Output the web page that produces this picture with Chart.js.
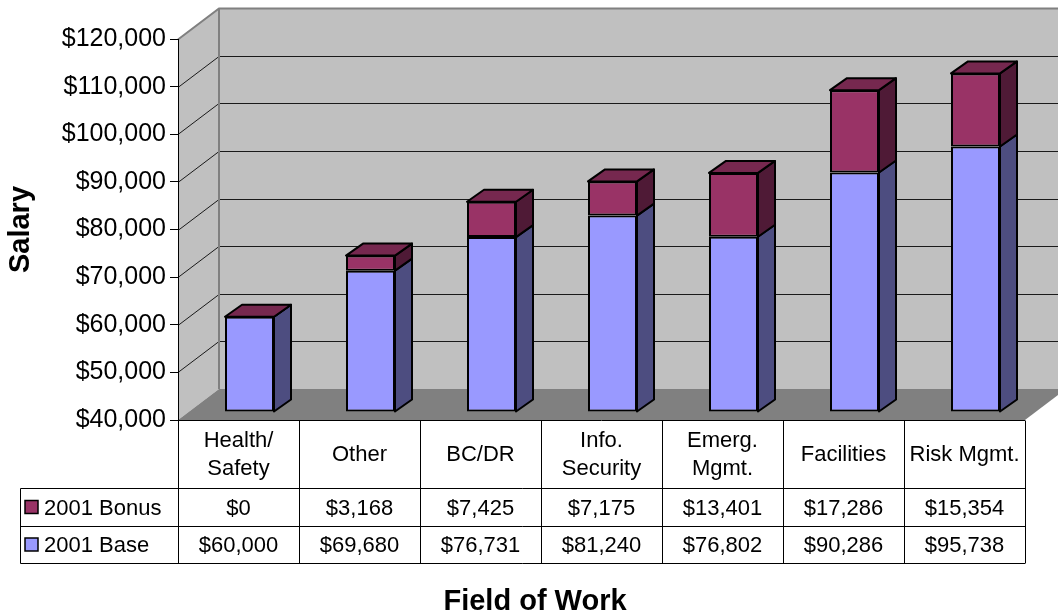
<!DOCTYPE html>
<html lang="en">
<head>
<meta charset="UTF-8">
<title>Salary by Field of Work</title>
<script src="https://cdn.jsdelivr.net/npm/chart.js"></script>
<style>
  body { margin: 0; background: #fff; }
  #wrap { width: 1058px; height: 615px; }
</style>
</head>
<body>
<div id="wrap"><canvas id="salaryChart" width="1058" height="615"></canvas></div>
<script>
const categories = [['Health/', 'Safety'], ['Other'], ['BC/DR'], ['Info.', 'Security'], ['Emerg.', 'Mgmt.'], ['Facilities'], ['Risk Mgmt.']];
const baseSalary = [60000, 69680, 76731, 81240, 76802, 90286, 95738];
const bonusSalary = [0, 3168, 7425, 7175, 13401, 17286, 15354];
const seriesNames = ['2001 Base', '2001 Bonus'];
const yMin = 40000, yMax = 120000, yStep = 10000;
const xTitle = 'Field of Work';

const FONT = "'Liberation Sans', Arial, sans-serif";
// front / side / top colours per series
const faceColors = [
    { front: '#9999ff', side: '#4d4d80', top: '#7373bf' },
    { front: '#993366', side: '#4f1a36', top: '#76284f' }
];
// fake 3d geometry
const DX = 41, DY = 31;           // depth of walls
const SHIFT_X = 11, SHIFT_Y = 8;  // bars sit a bit back from the front edge
const BX = 17, BY = 12;           // depth of each bar

function money(v) {
    return '$' + v.toLocaleString('en-US');
}

function poly(ctx, pts) {
    ctx.beginPath();
    ctx.moveTo(pts[0][0], pts[0][1]);
    for (let i = 1; i < pts.length; i++) ctx.lineTo(pts[i][0], pts[i][1]);
    ctx.closePath();
    ctx.fill();
    ctx.stroke();
}

const frame3d = {
    id: 'frame3d',
    beforeDraw(chart) {
        const ctx = chart.ctx, a = chart.chartArea, y = chart.scales.y;
        ctx.save();
        // walls
        ctx.fillStyle = '#c0c0c0';
        ctx.beginPath();
        ctx.moveTo(a.left, a.top);
        ctx.lineTo(a.left + DX, a.top - DY);
        ctx.lineTo(a.left + DX, a.bottom - DY);
        ctx.lineTo(a.left, a.bottom);
        ctx.closePath();
        ctx.fill();
        ctx.fillRect(a.left + DX, a.top - DY, a.right - a.left, a.bottom - a.top);
        // floor
        ctx.fillStyle = '#808080';
        ctx.beginPath();
        ctx.moveTo(a.left, a.bottom);
        ctx.lineTo(a.right, a.bottom);
        ctx.lineTo(a.right + DX, a.bottom - DY);
        ctx.lineTo(a.left + DX, a.bottom - DY);
        ctx.closePath();
        ctx.fill();
        // gridlines on the walls
        y.ticks.forEach(t => {
            if (t.value === y.min) return;
            const py = Math.round(y.getPixelForValue(t.value)) + 0.5;
            const isTop = t.value === y.max;
            ctx.strokeStyle = isTop ? '#808080' : '#1a1a1a';
            ctx.lineWidth = isTop ? 2 : 1;
            ctx.beginPath();
            ctx.moveTo(a.left, py);
            ctx.lineTo(a.left + DX, py - DY);
            ctx.lineTo(a.right + DX + 20, py - DY);
            ctx.stroke();
        });
        ctx.strokeStyle = '#808080';
        ctx.lineWidth = 2;
        ctx.beginPath();
        ctx.moveTo(a.left + DX, a.top - DY);
        ctx.lineTo(a.left + DX, a.bottom - DY);
        ctx.stroke();
        ctx.restore();
    },
    beforeDatasetsDraw(chart) {
        chart.ctx.save();
        chart.ctx.translate(SHIFT_X, -SHIFT_Y);
    },
    afterDatasetsDraw(chart) {
        const ctx = chart.ctx;
        const floorY = chart.scales.y.getPixelForValue(yMin);
        const last = chart.data.datasets.length - 1;
        ctx.lineWidth = 2;
        ctx.strokeStyle = '#000';
        ctx.lineJoin = 'round';
        chart.data.datasets.forEach((ds, di) => {
            chart.getDatasetMeta(di).data.forEach(bar => {
                const p = bar.getProps(['x', 'y', 'base', 'width'], true);
                const l = p.x - p.width / 2, r = p.x + p.width / 2;
                const t = Math.min(p.y, p.base), b = Math.min(Math.max(p.y, p.base), floorY);
                ctx.fillStyle = faceColors[di].side;
                poly(ctx, [[r, b], [r + BX, b - BY], [r + BX, t - BY], [r, t]]);
                if (di === last) {
                    ctx.fillStyle = faceColors[di].top;
                    poly(ctx, [[l, t], [l + BX, t - BY], [r + BX, t - BY], [r, t]]);
                }
            });
        });
        ctx.restore();
    },
    afterDraw(chart) {
        // data table under the plot
        const ctx = chart.ctx, a = chart.chartArea;
        const n = categories.length;
        const colW = (a.right - a.left) / n;
        const legL = 20.5;
        const hTop = Math.round(a.bottom) + 0.5;
        const hBot = hTop + 68, r1 = hBot + 38, r2 = r1 + 37;
        ctx.save();
        ctx.strokeStyle = '#000';
        ctx.lineWidth = 1;
        ctx.beginPath();
        ctx.moveTo(a.left, hTop); ctx.lineTo(a.right, hTop);
        [hBot, r1, r2].forEach(yy => { ctx.moveTo(legL, yy); ctx.lineTo(a.right, yy); });
        ctx.moveTo(legL, hBot); ctx.lineTo(legL, r2);
        for (let i = 0; i <= n; i++) {
            const xx = Math.round(a.left + i * colW) + 0.5;
            ctx.moveTo(xx, hTop); ctx.lineTo(xx, r2);
        }
        ctx.stroke();

        ctx.fillStyle = '#000';
        ctx.font = '22px ' + FONT;
        ctx.textAlign = 'center';
        ctx.textBaseline = 'middle';
        const hMid = (hTop + hBot) / 2;
        categories.forEach((lines, i) => {
            const cx = a.left + (i + 0.5) * colW;
            lines.forEach((s, k) => {
                ctx.fillText(s, cx, hMid + (k - (lines.length - 1) / 2) * 28);
            });
            ctx.fillText(money(bonusSalary[i]), cx, (hBot + r1) / 2 + 1);
            ctx.fillText(money(baseSalary[i]), cx, (r1 + r2) / 2 + 1);
        });

        // legend keys in the table
        const rows = [[1, (hBot + r1) / 2], [0, (r1 + r2) / 2]];
        rows.forEach(([di, cy]) => {
            ctx.fillStyle = faceColors[di].front;
            ctx.lineWidth = 1.5;
            ctx.fillRect(25, cy - 7, 13, 13);
            ctx.strokeRect(25, cy - 7, 13, 13);
            ctx.fillStyle = '#000';
            ctx.textAlign = 'left';
            ctx.fillText(seriesNames[di], 44, cy + 1);
        });

        // category axis title, centred on the whole picture like the original
        ctx.font = 'bold 29px ' + FONT;
        ctx.textAlign = 'center';
        ctx.textBaseline = 'alphabetic';
        ctx.fillText(xTitle, 535, 610);
        ctx.restore();
    }
};

const ctx = document.getElementById('salaryChart').getContext('2d');
new Chart(ctx, {
    type: 'bar',
    data: {
        labels: categories,
        datasets: [
            { label: seriesNames[0], data: baseSalary, backgroundColor: faceColors[0].front, base: yMin },
            { label: seriesNames[1], data: bonusSalary, backgroundColor: faceColors[1].front }
        ]
    },
    options: {
        responsive: false,
        animation: false,
        datasets: {
            bar: {
                borderColor: '#000',
                borderWidth: 2,
                borderSkipped: false,
                barPercentage: 0.405,
                categoryPercentage: 1
            }
        },
        layout: { padding: { left: 0, right: 33, top: 39, bottom: 0 } },
        plugins: {
            legend: { display: false },
            tooltip: { enabled: false }
        },
        scales: {
            x: {
                stacked: true,
                grid: { display: false },
                border: { display: false },
                ticks: { display: false },
                afterFit(scale) { scale.height = 195; }
            },
            y: {
                stacked: true,
                min: yMin,
                max: yMax,
                ticks: {
                    stepSize: yStep,
                    color: '#000',
                    padding: 4,
                    font: { family: FONT, size: 25 },
                    callback: v => money(v)
                },
                grid: { drawOnChartArea: false, tickLength: 8, color: '#000' },
                border: { color: '#000', width: 1 },
                title: {
                    display: true,
                    text: 'Salary',
                    color: '#000',
                    font: { family: FONT, size: 29, weight: 'bold' },
                    padding: { top: 4, bottom: 0 }
                },
                afterFit(scale) { scale.width = 178; }
            }
        }
    },
    plugins: [frame3d]
});
</script>
</body>
</html>
